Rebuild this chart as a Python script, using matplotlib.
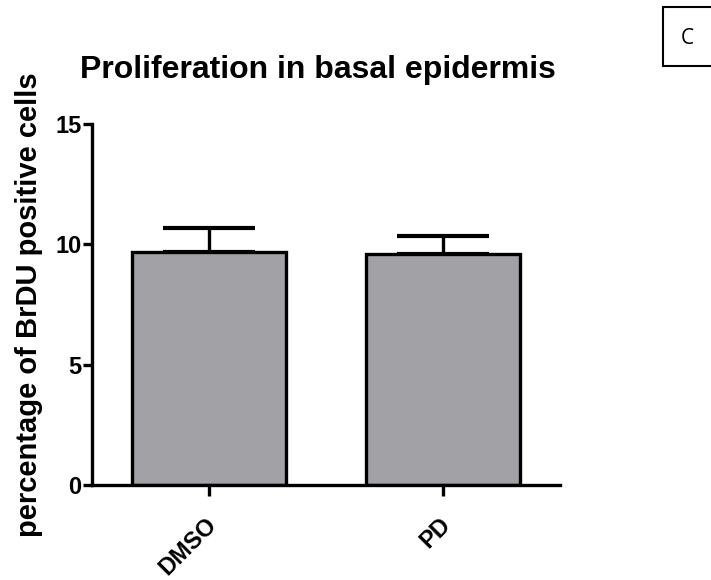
import matplotlib
matplotlib.use("Agg")
import matplotlib.pyplot as plt
import matplotlib.transforms as mtransforms
from matplotlib.patches import Rectangle

categories = ["DMSO", "PD"]
means = [9.7, 9.6]
errors = [0.98, 0.75]
yticks = [0, 5, 10, 15]

plt.rcParams['font.family'] = ['Liberation Sans', 'DejaVu Sans']
plt.rcParams['font.weight'] = 'bold'

fig = plt.figure(figsize=(7.11, 5.8), dpi=100)
ax = fig.add_axes([92/711, 1-485/580, (560-92)/711, (485-124)/580])

x = list(range(len(categories)))
ax.bar(x, means, width=0.66, color='#a2a1a6', edgecolor='black', linewidth=2.4, zorder=2)
ax.errorbar(x, means, yerr=[[0]*len(errors), errors], fmt='none', ecolor='black',
            elinewidth=2.4, capsize=33, capthick=3.0, zorder=1)

ax.set_xlim(-0.5, 1.5)
ax.set_ylim(0, 15)
ax.set_yticks(yticks)
ax.set_xticks(x)
ax.set_xticklabels(categories, rotation=45, ha='right', rotation_mode='anchor', fontsize=17, fontweight='bold')
ax.tick_params(axis='y', labelsize=17, width=2.4, length=6.5, pad=1)
ax.tick_params(axis='x', width=2.4, length=8, pad=12)
for lab in ax.get_yticklabels():
    lab.set_fontweight('bold')
offset = mtransforms.ScaledTranslation(-4/100, 0, fig.dpi_scale_trans)
for lab in ax.get_xticklabels():
    lab.set_transform(lab.get_transform() + offset)
for s in ['top', 'right']:
    ax.spines[s].set_visible(False)
for s in ['left', 'bottom']:
    ax.spines[s].set_linewidth(2.4)

fig.text(318/711, 1-78/580, "Proliferation in basal epidermis", fontsize=23, fontweight='bold',
         ha='center', va='baseline')
ax.set_ylabel("percentage of BrDU positive cells", fontsize=21, fontweight='bold')
ax.yaxis.set_label_coords((43-92)/468, 0.5)

fig.patches.append(Rectangle((663/711, 1-66/580), 50/711, 59/580, transform=fig.transFigure,
                             facecolor='white', edgecolor='black', linewidth=1.5))
fig.text(687/711, 1-38/580, "C", fontsize=15, fontweight='normal', ha='center', va='center',
         family=['Open Sans', 'DejaVu Sans'])

fig.savefig("out.png", dpi=100)
